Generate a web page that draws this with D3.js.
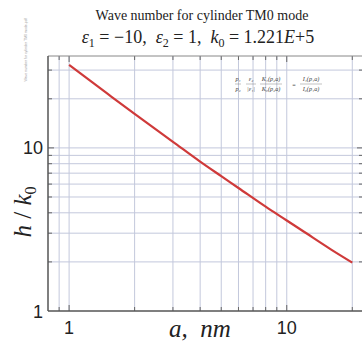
<!DOCTYPE html>
<html>
<head>
<meta charset="utf-8">
<script src="https://cdn.jsdelivr.net/npm/d3@7"></script>
<style>
  html, body { margin: 0; padding: 0; background: #fff; }
  svg { display: block; }
</style>
</head>
<body>
<svg id="chart" width="362" height="342"></svg>
<script>
// radius a (nm) and normalised wave number h/k0
const aValues = [1, 1.5, 2, 3, 4, 5, 6, 8, 10, 12, 16, 20];
const hValues = [32.3, 21.5, 16.15, 10.9, 8.24, 6.71, 5.68, 4.36, 3.59, 3.06, 2.38, 1.98];

const xGrid = [0.9, 1, 2, 3, 4, 5, 6, 7, 8, 9, 10, 20];
const yGrid = [2, 3, 4, 5, 6, 7, 8, 9, 10, 20, 30];
const xTickLabels = [1, 10];
const yTickLabels = [1, 10];

const svg = d3.select('#chart');
const plot = { left: 48, right: 363, top: 56, bottom: 311 };

const x = d3.scaleLog().domain([0.8, 22.4]).range([plot.left, plot.right]);
const y = d3.scaleLog().domain([1, 36.6]).range([plot.bottom, plot.top]);

const serif = "'Liberation Serif', 'Times New Roman', serif";
const sans = "'Liberation Sans', Arial, sans-serif";

// grid
const grid = svg.append('g').attr('stroke', '#c3c8dc').attr('stroke-width', 1);
grid.selectAll('.vx').data(xGrid).enter().append('line')
	.attr('x1', d => x(d)).attr('x2', d => x(d))
	.attr('y1', plot.top).attr('y2', plot.bottom);
grid.selectAll('.hy').data(yGrid).enter().append('line')
	.attr('x1', plot.left).attr('x2', plot.right)
	.attr('y1', d => y(d)).attr('y2', d => y(d));

// inward ticks on all sides
const ticks = svg.append('g').attr('stroke', '#666').attr('stroke-width', 1);
const isMajor = d => d === 1 || d === 10;
ticks.selectAll('.tb').data(xGrid).enter().append('line')
	.attr('x1', d => x(d)).attr('x2', d => x(d))
	.attr('y1', plot.bottom).attr('y2', d => plot.bottom - (isMajor(d) ? 6 : 4));
ticks.selectAll('.tt').data(xGrid).enter().append('line')
	.attr('x1', d => x(d)).attr('x2', d => x(d))
	.attr('y1', plot.top).attr('y2', d => plot.top + (isMajor(d) ? 6 : 4));
ticks.selectAll('.tl').data(yGrid).enter().append('line')
	.attr('y1', d => y(d)).attr('y2', d => y(d))
	.attr('x1', plot.left).attr('x2', d => plot.left + (isMajor(d) ? 6 : 4));
ticks.selectAll('.tr').data(yGrid).enter().append('line')
	.attr('y1', d => y(d)).attr('y2', d => y(d))
	.attr('x1', plot.right).attr('x2', d => plot.right - (isMajor(d) ? 6 : 4));

// frame
svg.append('line').attr('x1', plot.left).attr('x2', plot.right).attr('y1', plot.top).attr('y2', plot.top)
	.attr('stroke', '#888').attr('stroke-width', 1);
svg.append('line').attr('x1', plot.left).attr('x2', plot.left).attr('y1', plot.top).attr('y2', plot.bottom)
	.attr('stroke', '#555').attr('stroke-width', 1.5);
svg.append('line').attr('x1', plot.left).attr('x2', plot.right).attr('y1', plot.bottom).attr('y2', plot.bottom)
	.attr('stroke', '#555').attr('stroke-width', 1.5);

// curve
const line = d3.line()
	.x((d, i) => x(aValues[i]))
	.y(d => y(d))
	.curve(d3.curveMonotoneX);
svg.append('path')
	.datum(hValues)
	.attr('d', line)
	.attr('fill', 'none')
	.attr('stroke', '#cf3a3a')
	.attr('stroke-width', 2.2);

// tick labels
svg.selectAll('.xl').data(xTickLabels).enter().append('text')
	.attr('x', d => x(d)).attr('y', 334)
	.attr('text-anchor', 'middle')
	.attr('font-family', sans).attr('font-size', 18).attr('fill', '#222')
	.text(d => d);
svg.selectAll('.yl').data(yTickLabels).enter().append('text')
	.attr('x', 43).attr('y', d => y(d) + 6.5)
	.attr('text-anchor', 'end')
	.attr('font-family', sans).attr('font-size', 18).attr('fill', '#222')
	.text(d => d);

// titles
svg.append('text')
	.attr('x', 202).attr('y', 20)
	.attr('text-anchor', 'middle')
	.attr('font-family', serif).attr('font-size', 14).attr('fill', '#222')
	.text('Wave number for cylinder TM0 mode');

const t2 = svg.append('text')
	.attr('x', 198).attr('y', 43)
	.attr('text-anchor', 'middle')
	.attr('font-family', serif).attr('font-size', 18).attr('fill', '#222')
	.style('white-space', 'pre');
t2.append('tspan').attr('font-style', 'italic').text('ε');
t2.append('tspan').attr('font-size', 12).attr('dy', 4).text('1');
t2.append('tspan').attr('dy', -4).text(' = −10,  ');
t2.append('tspan').attr('font-style', 'italic').text('ε');
t2.append('tspan').attr('font-size', 12).attr('dy', 4).text('2');
t2.append('tspan').attr('dy', -4).text(' = 1,  ');
t2.append('tspan').attr('font-style', 'italic').text('k');
t2.append('tspan').attr('font-size', 12).attr('dy', 4).text('0');
t2.append('tspan').attr('dy', -4).text(' = 1.221');
t2.append('tspan').attr('font-style', 'italic').text('E');
t2.append('tspan').text('+5');

// axis titles
const yl = svg.append('text')
	.attr('transform', 'translate(31,212) rotate(-90)')
	.attr('text-anchor', 'middle')
	.attr('font-family', serif).attr('font-size', 25).attr('fill', '#222')
	.style('white-space', 'pre');
yl.append('tspan').attr('font-style', 'italic').text('h');
yl.append('tspan').text(' / ');
yl.append('tspan').attr('font-style', 'italic').text('k');
yl.append('tspan').attr('font-size', 16).attr('dy', 5).text('0');

svg.append('text')
	.attr('x', 200).attr('y', 337)
	.attr('text-anchor', 'middle')
	.attr('font-family', serif).attr('font-size', 25).attr('font-style', 'italic').attr('fill', '#222')
	.style('white-space', 'pre')
	.text('a,  nm');

// small dispersion equation inset
const eq = svg.append('g')
	.attr('font-family', serif).attr('font-size', 6.2).attr('font-style', 'italic').attr('fill', '#444');
const eqTop = ['p₁', 'ε₂', 'K₁(p₂a)', 'I₁(p₁a)'];
const eqBot = ['p₂', '|ε₁|', 'K₀(p₂a)', 'I₀(p₁a)'];
const eqX = [238, 251, 271, 311];
const eqHalf = [3, 5, 11, 11];
eq.selectAll('.et').data(eqTop).enter().append('text')
	.attr('x', (d, i) => eqX[i]).attr('y', 81).attr('text-anchor', 'middle').text(d => d);
eq.selectAll('.eb').data(eqBot).enter().append('text')
	.attr('x', (d, i) => eqX[i]).attr('y', 91).attr('text-anchor', 'middle').text(d => d);
eq.selectAll('.bar').data(eqX).enter().append('line')
	.attr('x1', (d, i) => d - eqHalf[i]).attr('x2', (d, i) => d + eqHalf[i])
	.attr('y1', 84).attr('y2', 84)
	.attr('stroke', '#666').attr('stroke-width', 0.4);
eq.append('text').attr('x', 294).attr('y', 86.5).attr('text-anchor', 'middle')
	.attr('font-style', 'normal').text('=');

// faint file label at the left edge
svg.append('text')
	.attr('transform', 'translate(27,50) rotate(-90)')
	.attr('text-anchor', 'middle')
	.attr('font-family', sans).attr('font-size', 3.5).attr('fill', '#999')
	.text('Wave number for cylinder TM0 mode.pdf');
</script>
</body>
</html>
